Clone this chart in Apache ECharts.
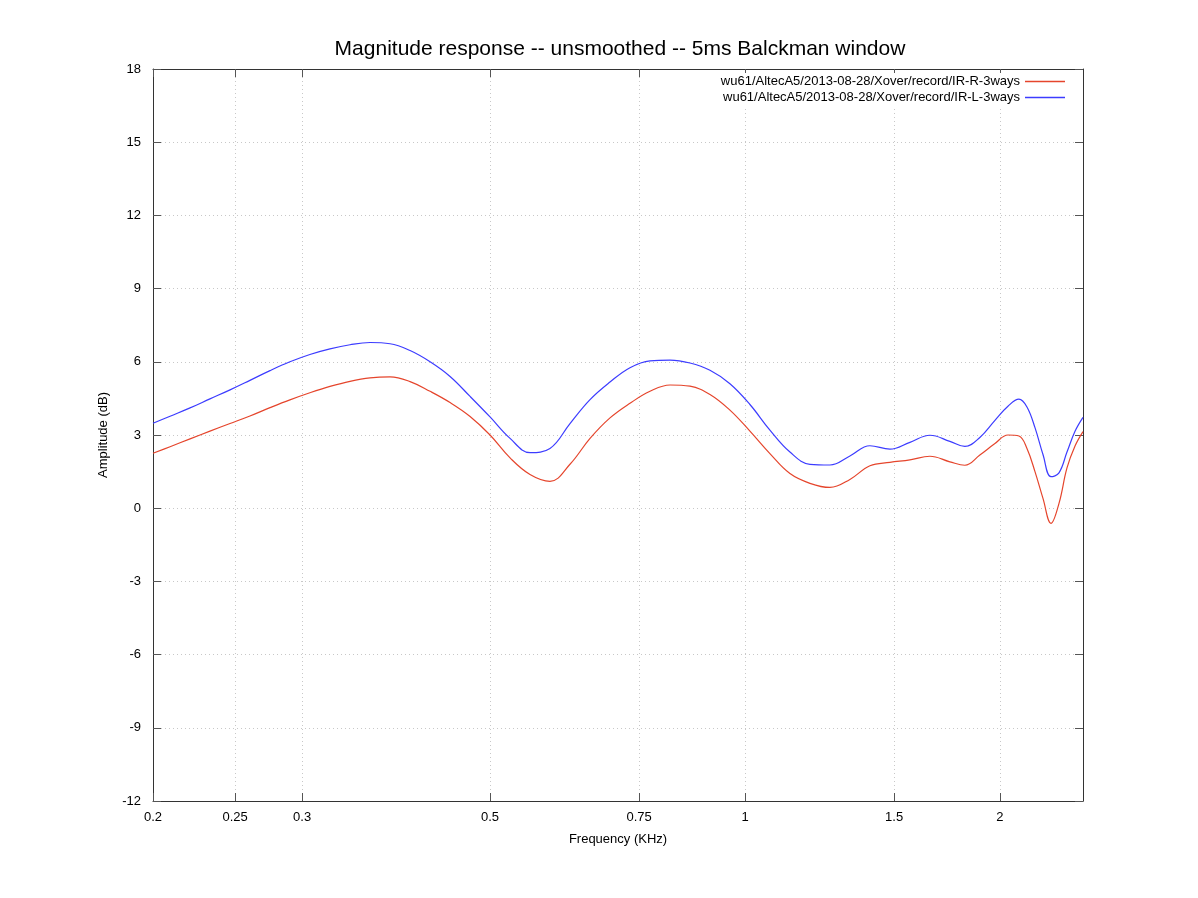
<!DOCTYPE html>
<html>
<head>
<meta charset="utf-8">
<script src="https://cdn.jsdelivr.net/npm/echarts@6/dist/echarts.min.js"></script>
<style>html,body{margin:0;padding:0;background:#fff}#c{width:1198px;height:898px}</style>
</head>
<body>
<div id="c"></div>
<script>
const freqs = [0.2,0.2095,0.2212,0.2335,0.2466,0.2603,0.2749,0.2902,0.3064,0.3236,0.3417,0.3608,0.381,0.4023,0.4248,0.4485,0.4736,0.5,0.528,0.5574,0.5885,0.6214,0.6562,0.6928,0.7315,0.7724,0.8156,0.8611,0.9092,0.9599,1.0135,1.0701,1.13,1.1931,1.2598,1.3301,1.4045,1.4829,1.5657,1.6532,1.7455,1.8181,1.8937,1.973,2.044,2.106,2.1524,2.1998,2.2482,2.2976,2.3482,2.3998,2.4528,2.5066];
const ampR = [2.25,2.52,2.84,3.16,3.47,3.78,4.12,4.44,4.73,4.99,5.2,5.34,5.38,5.19,4.79,4.33,3.76,3.0,2.06,1.38,1.1,1.8,2.86,3.7,4.3,4.79,5.05,5.0,4.66,4.02,3.16,2.24,1.42,1.02,0.85,1.18,1.74,1.88,1.98,2.13,1.9,1.76,2.18,2.65,3.0,2.96,2.45,1.5,0.4,-0.62,0.2,1.65,2.55,3.14];
const ampL = [3.48,3.77,4.11,4.48,4.85,5.24,5.64,6.0,6.3,6.53,6.7,6.79,6.74,6.46,6.0,5.4,4.58,3.74,2.86,2.28,2.45,3.47,4.45,5.17,5.76,6.04,6.07,5.95,5.65,5.1,4.25,3.2,2.3,1.8,1.77,2.14,2.56,2.42,2.7,2.99,2.74,2.53,2.9,3.6,4.18,4.47,4.15,3.3,2.2,1.29,1.45,2.3,3.15,3.72];
const xTicks = [0.2,0.25,0.3,0.5,0.75,1,1.5,2];
const seriesNames = ['wu61/AltecA5/2013-08-28/Xover/record/IR-R-3ways','wu61/AltecA5/2013-08-28/Xover/record/IR-L-3ways'];
const colors = ['#e5452c','#3c3cff'];

const font = 'Liberation Sans, Arial, Helvetica, sans-serif';
const chart = echarts.init(document.getElementById('c'), null, {renderer:'canvas'});
const gridLine = {show:true, lineStyle:{color:'#c8c8c8', type:[1,3], width:1}};
const xBase = {
  type:'log', logBase:10, min:0.2, max:2.5066,
  axisLine:{show:true, onZero:false, lineStyle:{color:'#333', width:1}},
  axisTick:{show:true, inside:true, length:8, customValues:xTicks, lineStyle:{color:'#555'}},
  minorTick:{show:false}
};
chart.setOption({
  animation:false,
  title:{text:'Magnitude response -- unsmoothed -- 5ms Balckman window', left:615, textAlign:'center', top:34,
    textStyle:{fontFamily:font, fontSize:21, fontWeight:'normal', color:'#000'}},
  legend:{orient:'vertical', right:129, top:73, align:'right', itemGap:3, itemWidth:40, itemHeight:1.5,
    backgroundColor:'#fff', padding:[2,4,2,4],
    textStyle:{fontFamily:font, fontSize:13, color:'#000'},
    data:[{name:seriesNames[0], icon:'rect', itemStyle:{color:colors[0], borderWidth:0}},
          {name:seriesNames[1], icon:'rect', itemStyle:{color:colors[1], borderWidth:0}}]},
  grid:{left:153, right:115, top:69, bottom:97},
  xAxis:[
    Object.assign({}, xBase, {position:'bottom', name:'Frequency (KHz)', nameLocation:'middle', nameGap:32,
      nameTextStyle:{fontFamily:font, fontSize:13, color:'#000'},
      axisLabel:{customValues:xTicks, fontFamily:font, fontSize:13, color:'#000', margin:10,
        formatter:v=>String(+(+v).toPrecision(3))},
      splitLine:gridLine}),
    Object.assign({}, xBase, {position:'top', axisLabel:{show:false}, splitLine:{show:false}})
  ],
  yAxis:[
    {type:'value', min:-12, max:18, interval:3, position:'left',
      name:'Amplitude (dB)', nameLocation:'middle', nameGap:43, nameRotate:90,
      nameTextStyle:{fontFamily:font, fontSize:13, color:'#000'},
      axisLine:{show:true, onZero:false, lineStyle:{color:'#333'}},
      axisTick:{show:true, inside:true, length:8, lineStyle:{color:'#555'}},
      axisLabel:{fontFamily:font, fontSize:13, color:'#000', margin:12},
      splitLine:gridLine},
    {type:'value', min:-12, max:18, interval:3, position:'right',
      axisLine:{show:true, onZero:false, lineStyle:{color:'#333'}},
      axisTick:{show:true, inside:true, length:8, lineStyle:{color:'#555'}},
      axisLabel:{show:false}, splitLine:{show:false}}
  ],
  series:[0,1].map(i=>({
    name:seriesNames[i], type:'line', xAxisIndex:0, yAxisIndex:0,
    data:freqs.map((f,j)=>[f,(i===0?ampR:ampL)[j]]),
    smooth:0.4, showSymbol:false, symbol:'none',
    lineStyle:{color:colors[i], width:1.2}, itemStyle:{color:colors[i]}
  }))
});
</script>
</body>
</html>
